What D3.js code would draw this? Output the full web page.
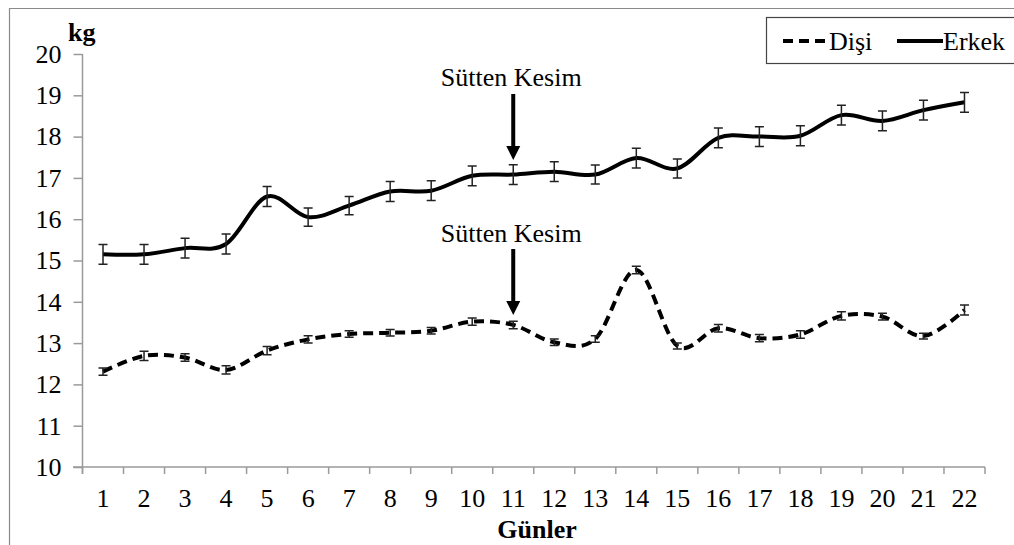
<!DOCTYPE html>
<html><head><meta charset="utf-8">
<script src="https://cdn.jsdelivr.net/npm/d3@7/dist/d3.min.js"></script>
<style>body{margin:0;background:#fff}svg{display:block;font-family:"Liberation Serif","Times New Roman",serif}svg text{font-family:"Liberation Serif","Times New Roman",serif}</style>
</head><body><svg id="c" width="1014" height="545"></svg>
<script>
const days = ["1","2","3","4","5","6","7","8","9","10","11","12","13","14","15","16","17","18","19","20","21","22"];
const erkek = [15.15,15.15,15.3,15.4,16.55,16.05,16.33,16.67,16.69,17.05,17.08,17.15,17.08,17.48,17.23,17.97,18.0,18.02,18.52,18.38,18.64,18.83];
const erkekErr = [0.24,0.24,0.24,0.24,0.24,0.22,0.22,0.24,0.24,0.24,0.24,0.24,0.23,0.24,0.23,0.24,0.24,0.24,0.24,0.24,0.24,0.24];
const disi = [12.31,12.69,12.65,12.35,12.82,13.09,13.22,13.25,13.3,13.52,13.44,13.02,13.1,14.77,12.93,13.36,13.12,13.21,13.66,13.64,13.17,13.8];
const disiErr = [0.09,0.11,0.09,0.1,0.1,0.09,0.08,0.08,0.08,0.09,0.09,0.08,0.08,0.09,0.07,0.09,0.09,0.09,0.1,0.08,0.07,0.12];
const yTicks = [10,11,12,13,14,15,16,17,18,19,20];
const legendLabels = ["Dişi","Erkek"];
const annotation = "Sütten Kesim";
const annotDay = "11";

const FONT = "Liberation Serif, Times New Roman, serif";
const svg = d3.select("#c");
const x = d3.scaleBand().domain(days).range([82.5, 985]);
const y = d3.scaleLinear().domain([10, 20]).range([467, 54]);
const cx = d => x(d) + x.bandwidth() / 2;
const FS = 26;

// outer frame
svg.append("path").attr("d", "M9.5,545 V8.5 H1014").attr("fill", "none").attr("stroke", "#8a8a8a").attr("stroke-width", 1.2);

// y axis
const yAxis = svg.append("g").attr("transform", "translate(82.5,0)")
  .call(d3.axisLeft(y).tickValues(yTicks).tickSize(9).tickPadding(12))
  .attr("font-family", FONT).attr("font-size", FS);
yAxis.select(".domain").attr("stroke", "#9a9a9a").attr("stroke-width", 1.5).attr("d", "M0,54 V474");
yAxis.selectAll(".tick line").attr("stroke", "#9a9a9a").attr("stroke-width", 1.5);
yAxis.selectAll(".tick text").attr("fill", "#000");

// x axis
const xAxis = svg.append("g").attr("transform", "translate(0,467)")
  .call(d3.axisBottom(x).tickSize(0).tickPadding(22))
  .attr("font-family", FONT).attr("font-size", FS);
xAxis.select(".domain").attr("stroke", "#9a9a9a").attr("stroke-width", 1.5).attr("d", "M73,0 H985");
xAxis.selectAll(".tick text").attr("fill", "#000");
const bounds = days.map(d => x(d)).concat([x(days[days.length - 1]) + x.bandwidth()]);
xAxis.selectAll(".bt").data(bounds).enter().append("line")
  .attr("x1", d => d).attr("x2", d => d).attr("y1", 0).attr("y2", 7)
  .attr("stroke", "#9a9a9a").attr("stroke-width", 1.5);

// axis titles
svg.append("text").attr("x", 68).attr("y", 41).attr("font-size", FS).attr("font-weight", "bold").text("kg");
svg.append("text").attr("x", 537).attr("y", 538).attr("text-anchor", "middle").attr("font-size", FS).attr("font-weight", "bold").text("Günler");

// lines
const line = d3.line().x((d, i) => cx(days[i])).y(d => y(d)).curve(d3.curveCardinal.tension(0));
svg.append("path").datum(erkek).attr("d", line).attr("fill", "none").attr("stroke", "#000").attr("stroke-width", 4);
svg.append("path").datum(disi).attr("d", line).attr("fill", "none").attr("stroke", "#000").attr("stroke-width", 4).attr("stroke-dasharray", "10,6");

// error bars
function errBars(vals, errs) {
  const g = svg.append("g").attr("stroke", "#222").attr("stroke-width", 1.5).attr("fill", "none");
  vals.forEach((v, i) => {
    const xx = cx(days[i]), y1 = y(v + errs[i]), y2 = y(v - errs[i]);
    g.append("path").attr("d", `M${xx-4.5},${y1} H${xx+4.5} M${xx},${y1} V${y2} M${xx-4.5},${y2} H${xx+4.5}`);
  });
}
errBars(erkek, erkekErr);
errBars(disi, disiErr);

// annotations
function annot(textY, y0, y1) {
  const ax = cx(annotDay);
  svg.append("text").attr("x", ax - 2).attr("y", textY).attr("text-anchor", "middle").attr("font-size", FS).text(annotation);
  svg.append("line").attr("x1", ax).attr("x2", ax).attr("y1", y0).attr("y2", y1 - 12).attr("stroke", "#000").attr("stroke-width", 4);
  svg.append("path").attr("d", `M${ax-7},${y1-14} L${ax+7},${y1-14} L${ax},${y1} Z`).attr("fill", "#000");
}
annot(86, 94, 160);
annot(242, 249, 315);

// legend
svg.append("rect").attr("x", 766.5).attr("y", 17.5).attr("width", 260).attr("height", 46).attr("fill", "#fff").attr("stroke", "#444").attr("stroke-width", 1.2);
svg.append("line").attr("x1", 783).attr("x2", 825).attr("y1", 41).attr("y2", 41).attr("stroke", "#000").attr("stroke-width", 4).attr("stroke-dasharray", "10,6");
svg.append("text").attr("x", 829).attr("y", 50).attr("font-size", FS).text(legendLabels[0]);
svg.append("line").attr("x1", 897).attr("x2", 943).attr("y1", 41).attr("y2", 41).attr("stroke", "#000").attr("stroke-width", 4);
svg.append("text").attr("x", 943).attr("y", 50).attr("font-size", FS).text(legendLabels[1]);
</script></body></html>
